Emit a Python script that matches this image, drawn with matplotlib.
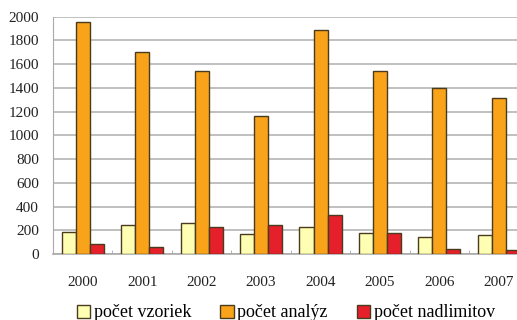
import numpy as np
import matplotlib
matplotlib.use('Agg')
import matplotlib.pyplot as plt

years = ['2000', '2001', '2002', '2003', '2004', '2005', '2006', '2007']
vzorky = [190, 247, 258, 168, 227, 179, 146, 157]
analyzy = [1955, 1705, 1543, 1164, 1888, 1540, 1397, 1316]
nadlimity = [84, 56, 230, 249, 331, 177, 45, 36]

labels = ['počet vzoriek', 'počet analýz', 'počet nadlimitov']
colors = ['#FFFFB4', '#F9A31B', '#E5202B']
edge = '#4A3A1E'

plt.rcParams['font.family'] = ['Liberation Serif', 'DejaVu Serif']

fig = plt.figure(figsize=(5.17, 3.2), dpi=100)
ax = fig.add_axes([0.1025, 0.206, 0.92, 0.742])

index = np.arange(len(years))
bar_width = 0.236

series = [vzorky, analyzy, nadlimity]
for k in range(3):
    ax.bar(index + (k - 1) * bar_width, series[k], bar_width,
           color=colors[k], edgecolor=edge, linewidth=1.0,
           label=labels[k], zorder=3)

ax.set_xlim(-0.5, len(years) - 0.5)
ax.set_ylim(0, 2000)
ax.set_yticks(np.arange(0, 2001, 200))
ax.set_xticks(index)
ax.set_xticklabels(years)
ax.set_xticks(np.arange(-0.5, len(years), 1.0), minor=True)
ax.tick_params(axis='x', which='major', length=0, pad=16, labelsize=11, colors='#222222')
ax.tick_params(axis='x', which='minor', length=3, color='#aaaaaa', direction='in')
ax.tick_params(axis='y', length=0, pad=10, labelsize=11, colors='#222222')

ax.grid(axis='y', color='#c0c0c0', linewidth=1.4, zorder=0)
for s in ['top', 'right']:
    ax.spines[s].set_visible(False)
ax.spines['left'].set_color('#aaaaaa')
ax.spines['bottom'].set_color('#aaaaaa')
ax.spines['bottom'].set_linewidth(1.2)

leg = fig.legend(loc='center', bbox_to_anchor=(0.553, 0.022), ncol=3,
                 frameon=False, fontsize=13, handlelength=0.75, handleheight=0.75,
                 handletextpad=0.2, columnspacing=1.6)

fig.savefig('out.png', dpi=100)
